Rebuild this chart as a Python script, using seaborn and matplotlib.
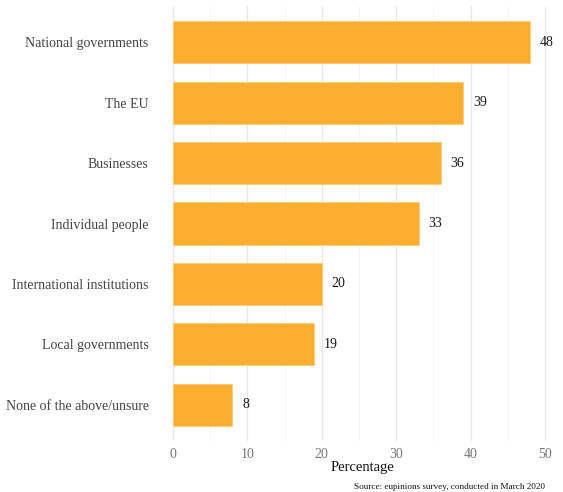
import matplotlib
matplotlib.use("Agg")
import matplotlib.pyplot as plt
import seaborn as sns
import pandas as pd
from matplotlib.ticker import MultipleLocator

categories = [
    "National governments",
    "The EU",
    "Businesses",
    "Individual people",
    "International institutions",
    "Local governments",
    "None of the above/unsure",
]
percentages = [48, 39, 36, 33, 20, 19, 8]

df = pd.DataFrame({"actor": categories, "pct": percentages})

sns.set_theme(style="white")
plt.rcParams["font.family"] = ["Liberation Serif", "DejaVu Serif"]

W, H = 563, 492
fig = plt.figure(figsize=(W / 100, H / 100), dpi=100)
ax = fig.add_axes([161 / W, 1 - 441 / H, (W - 161) / W, 435 / H])

sns.barplot(data=df, x="pct", y="actor", order=categories, color="#FBAE2F",
            saturation=1, width=0.7, edgecolor="#FDCB7A", linewidth=0.6,
            ax=ax, zorder=3)

for i, v in enumerate(percentages):
    ax.text(v + 1.3, i, f"{v}", va="center", ha="left", fontsize=10,
            color="#1a1a1a")

ax.set_xlim(-1.6, 52.4)
ax.set_ylim(6.6, -0.6)
ax.xaxis.set_major_locator(MultipleLocator(10))
ax.xaxis.set_minor_locator(MultipleLocator(5))
ax.grid(axis="x", which="major", color="#E6E6E6", linewidth=0.9, zorder=0)
ax.grid(axis="x", which="minor", color="#F2F2F2", linewidth=0.6, zorder=0)
ax.grid(axis="y", visible=False)
for s in ax.spines.values():
    s.set_visible(False)

ax.tick_params(axis="x", which="both", length=0, pad=5, labelsize=10,
               labelcolor="#777777")
ax.tick_params(axis="y", length=0, pad=9, labelsize=10,
               labelcolor="#444444")
ax.set_ylabel("")
ax.set_xlabel("Percentage", fontsize=10.5, color="#111111", labelpad=0)

fig.text(545 / W, 1 - 491 / H, "Source: eupinions survey, conducted in March 2020",
         ha="right", va="bottom", fontsize=6.6, color="#111111")

fig.savefig("out.png", dpi=100, facecolor="white")
